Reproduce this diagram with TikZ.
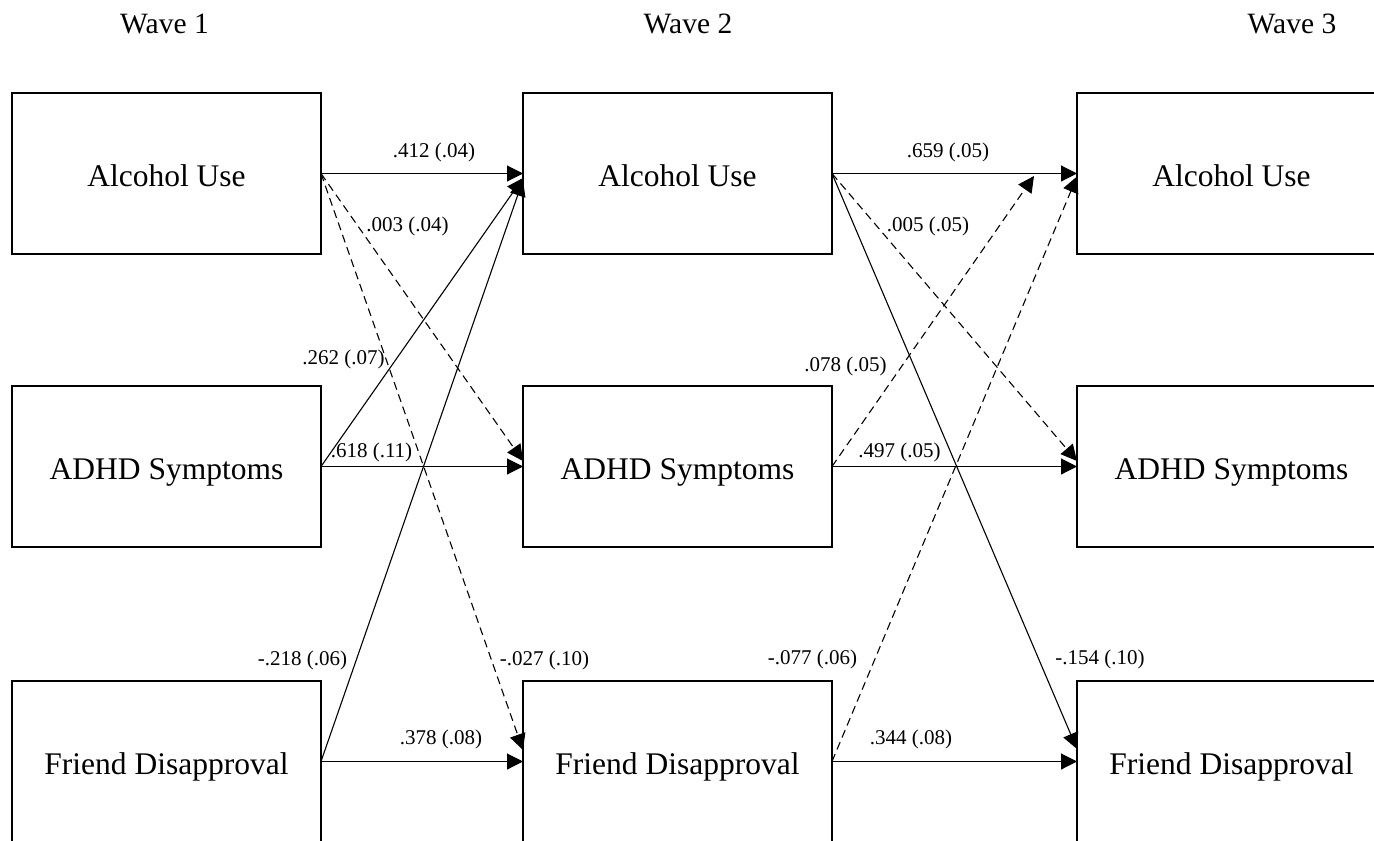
\documentclass[tikz,border=0pt]{standalone}
\usepackage{fontspec}
\setmainfont{Liberation Serif}
\usetikzlibrary{arrows.meta}
\begin{document}
\begin{tikzpicture}[x=1pt,y=-1pt,
  var/.style={draw, line width=1.8pt, minimum width=309pt, minimum height=161pt,
    inner sep=0pt, outer sep=0pt, text height=25pt, text depth=0pt,
    font=\fontsize{31.5}{36}\selectfont},
  wave/.style={anchor=base, inner sep=0pt, font=\fontsize{29.5}{34}\selectfont},
  coef/.style={anchor=base, inner sep=0pt, font=\fontsize{21}{25}\selectfont},
  sigpath/.style={line width=1.1pt, -{Triangle[length=16pt,width=16pt]}},
  nspath/.style={sigpath, dash pattern=on 8pt off 5pt}]
\useasboundingbox (0,0) rectangle (1374,841);

% wave headings
\node[wave] (w1) at (164.5,33) {Wave 1};
\node[wave] (w2) at (688,33) {Wave 2};
\node[wave] (w3) at (1292,33) {Wave 3};

% measured variables at each wave
\node[var] (A1) at (166.5,173.5) {Alcohol Use};
\node[var] (D1) at (166.5,466.5) {ADHD Symptoms};
\node[var] (F1) at (166.5,761.5) {Friend Disapproval};
\node[var] (A2) at (677.5,173.5) {Alcohol Use};
\node[var] (D2) at (677.5,466.5) {ADHD Symptoms};
\node[var] (F2) at (677.5,761.5) {Friend Disapproval};
\node[var] (A3) at (1231.5,173.5) {Alcohol Use};
\node[var] (D3) at (1231.5,466.5) {ADHD Symptoms};
\node[var] (F3) at (1231.5,761.5) {Friend Disapproval};

% wave 1 -> wave 2
\draw[sigpath] (A1.east) -- (A2.west);
\draw[nspath]  (A1.east) -- ([yshift=5.5pt]D2.west);
\draw[nspath]  (A1.east) -- ([yshift=11.5pt]F2.west);
\draw[sigpath] (D1.east) -- ([yshift=-4.5pt]A2.west);
\draw[sigpath] (D1.east) -- (D2.west);
\draw[sigpath] (F1.east) -- ([yshift=-6.5pt]A2.west);
\draw[sigpath] (F1.east) -- (F2.west);

% wave 2 -> wave 3
\coordinate (a3short) at (1034,176);
\draw[sigpath] (A2.east) -- (A3.west);
\draw[nspath]  (A2.east) -- ([yshift=5.5pt]D3.west);
\draw[sigpath] (A2.east) -- ([yshift=12.5pt]F3.west);
\draw[nspath]  (D2.east) -- (a3short);
\draw[sigpath] (D2.east) -- (D3.west);
\draw[nspath]  (F2.east) -- ([yshift=-3pt]A3.west);
\draw[sigpath] (F2.east) -- (F3.west);

% path coefficients (standard errors)
\node[coef] (c1)  at (434,157)   {.412 (.04)};
\node[coef] (c2)  at (407.5,231) {.003 (.04)};
\node[coef] (c3)  at (544.4,665) {-.027 (.10)};
\node[coef] (c4)  at (343.5,364) {.262 (.07)};
\node[coef] (c5)  at (371.5,457.5) {.618 (.11)};
\node[coef] (c6)  at (302.4,665) {-.218 (.06)};
\node[coef] (c7)  at (441,744)   {.378 (.08)};
\node[coef] (c8)  at (948,157)   {.659 (.05)};
\node[coef] (c9)  at (928,231)   {.005 (.05)};
\node[coef] (c10) at (1100,664)  {-.154 (.10)};
\node[coef] (c11) at (845.6,371) {.078 (.05)};
\node[coef] (c12) at (899.4,457) {.497 (.05)};
\node[coef] (c13) at (812.4,664) {-.077 (.06)};
\node[coef] (c14) at (911,744)   {.344 (.08)};
\end{tikzpicture}
\end{document}
